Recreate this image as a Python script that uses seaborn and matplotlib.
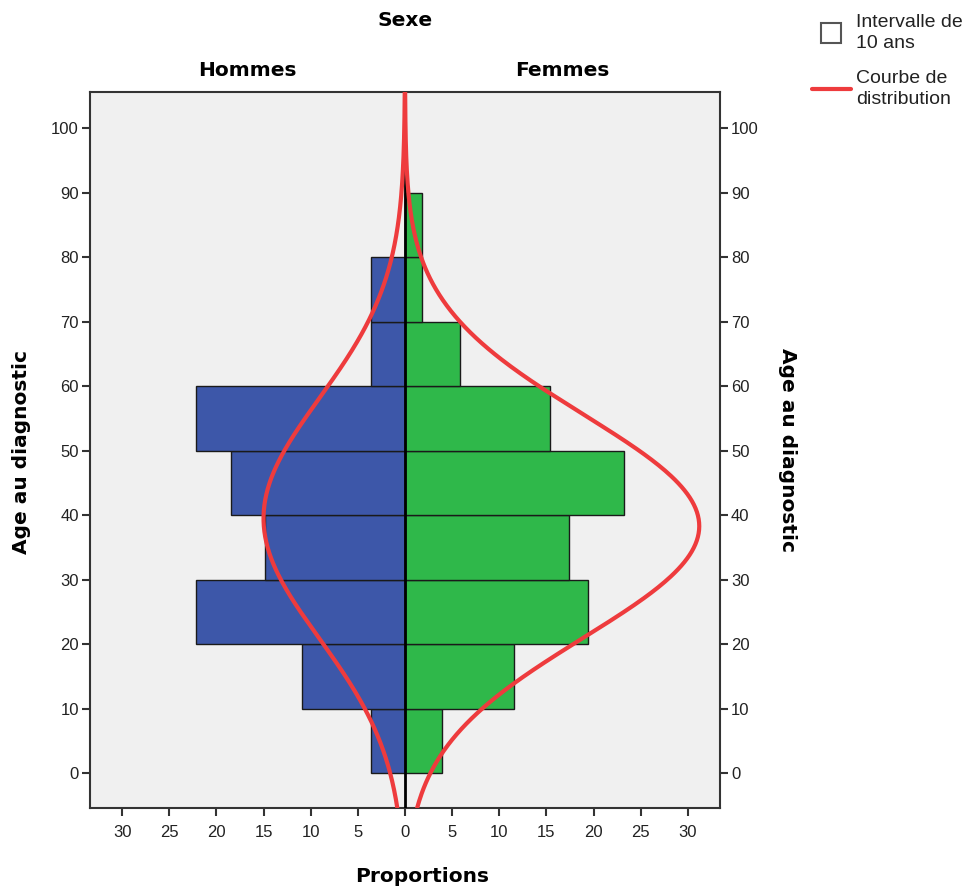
import numpy as np
import matplotlib
matplotlib.use("Agg")
import matplotlib.pyplot as plt
import seaborn as sns
from matplotlib.lines import Line2D

# data (percent of each sex per 10-year age band)
age_edges = [0, 10, 20, 30, 40, 50, 60, 70, 80, 90]
age_mid = [5, 15, 25, 35, 45, 55, 65, 75, 85]
hommes = [3.6, 10.9, 22.2, 14.8, 18.5, 22.2, 3.6, 3.6, 0.0]
femmes = [3.9, 11.6, 19.4, 17.4, 23.2, 15.4, 5.8, 1.8, 1.8]

# normal distribution curves (mean age, sd, peak height on the proportion axis)
curve_hommes = {"mean": 39.5, "sd": 18.6, "peak": 15.0}
curve_femmes = {"mean": 38.3, "sd": 17.3, "peak": 31.2}

xticks = [-30, -25, -20, -15, -10, -5, 0, 5, 10, 15, 20, 25, 30]
yticks = [0, 10, 20, 30, 40, 50, 60, 70, 80, 90, 100]

BLUE = "#3D57A9"
GREEN = "#2FB84A"
RED = "#EE3B3D"
BG = "#F0F0F0"

sns.set_style("ticks")
plt.rcParams["font.family"] = ["Liberation Sans", "DejaVu Sans"]

fig = plt.figure(figsize=(9.69, 8.92), dpi=100)
ax = fig.add_axes([90 / 969, 1 - 808 / 892, 630 / 969, 716 / 892])
ax.set_facecolor(BG)

sns.histplot(y=age_mid, weights=[-v for v in hommes], bins=age_edges, ax=ax,
             color=BLUE, alpha=1, edgecolor="#1a1a1a", linewidth=1)
sns.histplot(y=age_mid, weights=femmes, bins=age_edges, ax=ax,
             color=GREEN, alpha=1, edgecolor="#1a1a1a", linewidth=1)

ylim = (-5.4, 105.6)
ages = np.linspace(ylim[0], ylim[1], 400)


def normal_curve(p):
    return p["peak"] * np.exp(-((ages - p["mean"]) ** 2) / (2 * p["sd"] ** 2))


ax.axvline(0, color="black", lw=2, zorder=3)
sns.lineplot(x=-normal_curve(curve_hommes), y=ages, orient="y", sort=False,
             ax=ax, color=RED, lw=3, zorder=4)
sns.lineplot(x=normal_curve(curve_femmes), y=ages, orient="y", sort=False,
             ax=ax, color=RED, lw=3, zorder=4)

ax.set_xlim(-33.4, 33.4)
ax.set_ylim(*ylim)
ax.set_xticks(xticks)
ax.set_xticklabels([str(abs(t)) for t in xticks])
ax.set_yticks(yticks)
ax.set_xlabel("")
ax.set_ylabel("")
ax.tick_params(axis="both", labelsize=12, length=6, width=1.5, color="#333333",
               labelcolor="#222222")
ax.tick_params(axis="y", right=True, labelright=True, pad=2)
ax.tick_params(axis="x", pad=6)
for sp in ax.spines.values():
    sp.set_visible(True)
    sp.set_color("#333333")
    sp.set_linewidth(1.5)

bold = dict(family="DejaVu Sans", fontweight="bold", fontsize=14.5, color="black")
fig.text(405 / 969, 1 - 21 / 892, "Sexe", ha="center", va="center", **bold)
fig.text(247 / 969, 1 - 70 / 892, "Hommes", ha="center", va="center", **bold)
fig.text(562 / 969, 1 - 70 / 892, "Femmes", ha="center", va="center", **bold)
fig.text(422 / 969, 1 - 876 / 892, "Proportions", ha="center", va="center", **bold)
fig.text(22 / 969, 1 - 452 / 892, "Age au diagnostic", ha="center", va="center",
         rotation=90, **bold)
fig.text(787 / 969, 1 - 450 / 892, "Age au diagnostic", ha="center", va="center",
         rotation=270, **bold)

handles = [
    Line2D([], [], marker="s", markersize=15, markerfacecolor="white",
           markeredgecolor="#555555", markeredgewidth=1.5, linestyle="none"),
    Line2D([], [], color=RED, lw=3),
]
leg = fig.legend(handles, ["Intervalle de\n10 ans", "Courbe de\ndistribution"],
                 loc="upper left", bbox_to_anchor=(802 / 969, 1 - 4 / 892),
                 frameon=False, fontsize=14, handlelength=2.0, handletextpad=0.3,
                 labelspacing=0.9, borderpad=0, labelcolor="#222222")
for t in leg.get_texts():
    t.set_linespacing(1.35)

fig.savefig("out.png", dpi=100)
